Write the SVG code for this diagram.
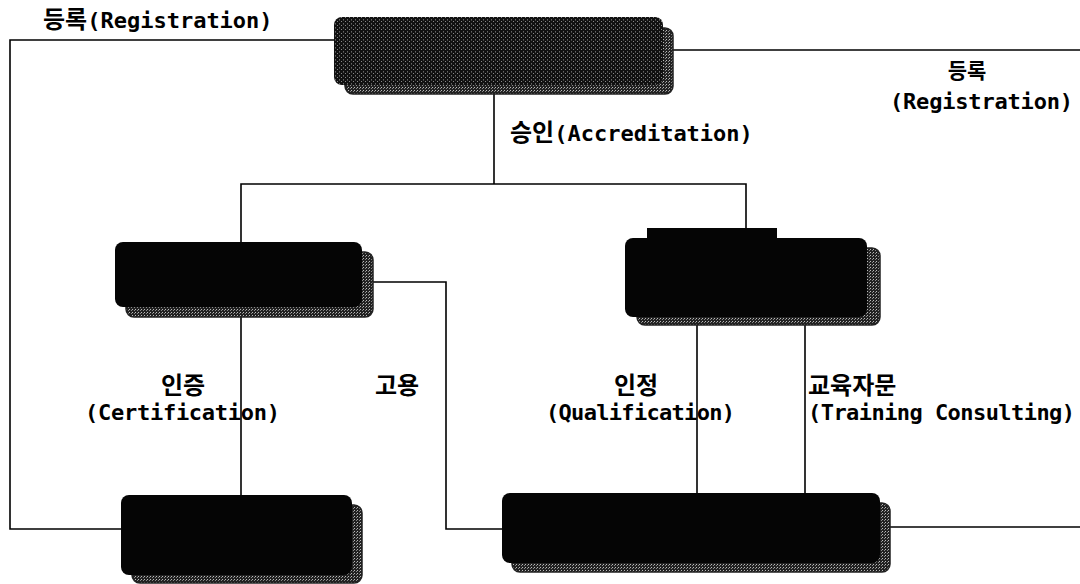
<svg xmlns="http://www.w3.org/2000/svg" width="1080" height="584" viewBox="0 0 1080 584">
<style>
.ln{fill:none;stroke:#000;stroke-width:1.6}
.box{fill:#050505}
.sh{fill:url(#dith);stroke:#222;stroke-width:1.5}
.t{font-family:"DejaVu Sans Mono","Noto Sans CJK KR",monospace;font-weight:bold;font-size:22px;fill:#000}
.k{font-family:"Noto Sans CJK KR",sans-serif;font-weight:bold;font-size:24px;fill:#000}
</style>
<defs>
<pattern id="dith" width="3" height="3" patternUnits="userSpaceOnUse">
<rect width="3" height="3" fill="#222"/>
<rect x="0" y="0" width="1" height="1" fill="#bbb"/>
<rect x="2" y="1" width="1" height="1" fill="#888"/>
</pattern>
<pattern id="dith2" width="4" height="4" patternUnits="userSpaceOnUse">
<rect width="4" height="4" fill="#111"/>
<rect x="1" y="1" width="1" height="1" fill="#888"/>
<rect x="3" y="3" width="1" height="1" fill="#666"/>
<rect x="3" y="0" width="1" height="1" fill="#444"/>
</pattern>
</defs>
<rect width="1080" height="584" fill="#fff"/>
<g id="connectors">
<polyline class="ln" points="334,40 10,40 10,529 121,529"/>
<polyline class="ln" points="673,50 1080,50"/>
<polyline class="ln" points="494,94 494,184"/>
<polyline class="ln" points="241,242 241,184 746,184 746,228"/>
<polyline class="ln" points="241,317 241,495"/>
<polyline class="ln" points="373,282 446,282 446,529 502,529"/>
<polyline class="ln" points="697,325 697,493"/>
<polyline class="ln" points="805,325 805,493"/>
<polyline class="ln" points="890,527 1080,527"/>
</g>
<g id="node-top">
<rect class="sh" x="345" y="28" width="328" height="66" rx="8"/>
<rect x="334" y="17" width="329" height="68" rx="8" fill="url(#dith2)"/>
</g>
<g id="node-mid-left">
<rect class="sh" x="126" y="252" width="247" height="65" rx="8"/>
<rect class="box" x="115" y="242" width="247" height="65" rx="8"/>
</g>
<g id="node-mid-right">
<rect class="sh" x="637" y="248" width="243" height="77" rx="8"/>
<rect class="box" x="647" y="228" width="130" height="14"/>
<rect class="box" x="625" y="238" width="242" height="79" rx="8"/>
</g>
<g id="node-bottom-left">
<rect class="sh" x="132" y="505" width="230" height="78" rx="8"/>
<rect class="box" x="121" y="495" width="231" height="80" rx="8"/>
</g>
<g id="node-bottom-right">
<rect class="sh" x="512" y="503" width="378" height="69" rx="8"/>
<rect class="box" x="502" y="493" width="378" height="70" rx="8"/>
</g>
<g id="labels">
<text class="t" x="43" y="28"><tspan class="k">등록</tspan><tspan>(Registration)</tspan></text>
<text class="k" x="967" y="78" text-anchor="middle" style="font-size:21px">등록</text>
<text class="t" x="890" y="109" textLength="183">(Registration)</text>
<text class="t" x="510" y="141"><tspan class="k">승인</tspan><tspan>(Accreditation)</tspan></text>
<text class="k" x="183" y="394" text-anchor="middle">인증</text>
<text class="t" x="85" y="420" textLength="195">(Certification)</text>
<text class="k" x="397" y="394" text-anchor="middle">고용</text>
<text class="k" x="636" y="394" text-anchor="middle">인정</text>
<text class="t" x="546" y="420" textLength="189">(Qualification)</text>
<text class="k" x="808" y="394">교육자문</text>
<text class="t" x="808" y="420" textLength="267">(Training Consulting)</text>
</g>
</svg>
